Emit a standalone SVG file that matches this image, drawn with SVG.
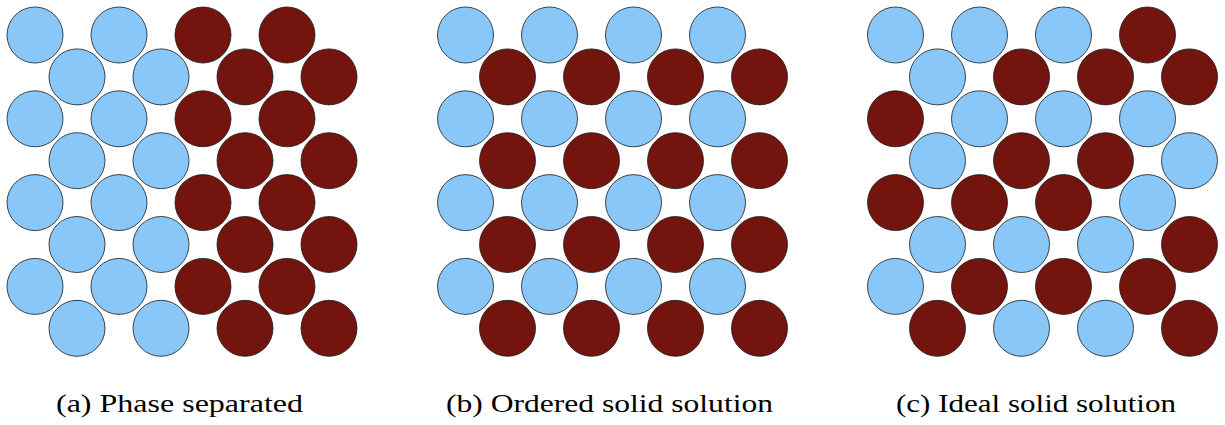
<svg xmlns="http://www.w3.org/2000/svg" width="1225" height="425" viewBox="0 0 1225 425">
<style>
.b{fill:#88c7f8;stroke:#1a1a1a;stroke-width:0.8}
.r{fill:#73140f;stroke:#1a1a1a;stroke-width:0.8}
.lbl{font-family:"Liberation Serif","Times New Roman",serif;font-size:25px;fill:#000}
</style>
<rect width="1225" height="425" fill="#fff"/>
<g id="panel-a">
<g id="a-r0"><circle class="b" cx="35" cy="35" r="28"/><circle class="b" cx="119" cy="35" r="28"/><circle class="r" cx="203" cy="35" r="28"/><circle class="r" cx="287" cy="35" r="28"/></g>
<g id="a-r1"><circle class="b" cx="77" cy="76.9" r="28"/><circle class="b" cx="161" cy="76.9" r="28"/><circle class="r" cx="245" cy="76.9" r="28"/><circle class="r" cx="329" cy="76.9" r="28"/></g>
<g id="a-r2"><circle class="b" cx="35" cy="118.8" r="28"/><circle class="b" cx="119" cy="118.8" r="28"/><circle class="r" cx="203" cy="118.8" r="28"/><circle class="r" cx="287" cy="118.8" r="28"/></g>
<g id="a-r3"><circle class="b" cx="77" cy="160.7" r="28"/><circle class="b" cx="161" cy="160.7" r="28"/><circle class="r" cx="245" cy="160.7" r="28"/><circle class="r" cx="329" cy="160.7" r="28"/></g>
<g id="a-r4"><circle class="b" cx="35" cy="202.6" r="28"/><circle class="b" cx="119" cy="202.6" r="28"/><circle class="r" cx="203" cy="202.6" r="28"/><circle class="r" cx="287" cy="202.6" r="28"/></g>
<g id="a-r5"><circle class="b" cx="77" cy="244.5" r="28"/><circle class="b" cx="161" cy="244.5" r="28"/><circle class="r" cx="245" cy="244.5" r="28"/><circle class="r" cx="329" cy="244.5" r="28"/></g>
<g id="a-r6"><circle class="b" cx="35" cy="286.4" r="28"/><circle class="b" cx="119" cy="286.4" r="28"/><circle class="r" cx="203" cy="286.4" r="28"/><circle class="r" cx="287" cy="286.4" r="28"/></g>
<g id="a-r7"><circle class="b" cx="77" cy="328.3" r="28"/><circle class="b" cx="161" cy="328.3" r="28"/><circle class="r" cx="245" cy="328.3" r="28"/><circle class="r" cx="329" cy="328.3" r="28"/></g>
<text class="lbl" x="56" y="412" textLength="247" lengthAdjust="spacingAndGlyphs">(a) Phase separated</text>
</g>
<g id="panel-b" transform="translate(430.5 0)">
<g id="b-r0"><circle class="b" cx="35" cy="35" r="28"/><circle class="b" cx="119" cy="35" r="28"/><circle class="b" cx="203" cy="35" r="28"/><circle class="b" cx="287" cy="35" r="28"/></g>
<g id="b-r1"><circle class="r" cx="77" cy="76.9" r="28"/><circle class="r" cx="161" cy="76.9" r="28"/><circle class="r" cx="245" cy="76.9" r="28"/><circle class="r" cx="329" cy="76.9" r="28"/></g>
<g id="b-r2"><circle class="b" cx="35" cy="118.8" r="28"/><circle class="b" cx="119" cy="118.8" r="28"/><circle class="b" cx="203" cy="118.8" r="28"/><circle class="b" cx="287" cy="118.8" r="28"/></g>
<g id="b-r3"><circle class="r" cx="77" cy="160.7" r="28"/><circle class="r" cx="161" cy="160.7" r="28"/><circle class="r" cx="245" cy="160.7" r="28"/><circle class="r" cx="329" cy="160.7" r="28"/></g>
<g id="b-r4"><circle class="b" cx="35" cy="202.6" r="28"/><circle class="b" cx="119" cy="202.6" r="28"/><circle class="b" cx="203" cy="202.6" r="28"/><circle class="b" cx="287" cy="202.6" r="28"/></g>
<g id="b-r5"><circle class="r" cx="77" cy="244.5" r="28"/><circle class="r" cx="161" cy="244.5" r="28"/><circle class="r" cx="245" cy="244.5" r="28"/><circle class="r" cx="329" cy="244.5" r="28"/></g>
<g id="b-r6"><circle class="b" cx="35" cy="286.4" r="28"/><circle class="b" cx="119" cy="286.4" r="28"/><circle class="b" cx="203" cy="286.4" r="28"/><circle class="b" cx="287" cy="286.4" r="28"/></g>
<g id="b-r7"><circle class="r" cx="77" cy="328.3" r="28"/><circle class="r" cx="161" cy="328.3" r="28"/><circle class="r" cx="245" cy="328.3" r="28"/><circle class="r" cx="329" cy="328.3" r="28"/></g>
<text class="lbl" x="15.5" y="412" textLength="327" lengthAdjust="spacingAndGlyphs">(b) Ordered solid solution</text>
</g>
<g id="panel-c" transform="translate(860.5 0)">
<g id="c-r0"><circle class="b" cx="35" cy="35" r="28"/><circle class="b" cx="119" cy="35" r="28"/><circle class="b" cx="203" cy="35" r="28"/><circle class="r" cx="287" cy="35" r="28"/></g>
<g id="c-r1"><circle class="b" cx="77" cy="76.9" r="28"/><circle class="r" cx="161" cy="76.9" r="28"/><circle class="r" cx="245" cy="76.9" r="28"/><circle class="r" cx="329" cy="76.9" r="28"/></g>
<g id="c-r2"><circle class="r" cx="35" cy="118.8" r="28"/><circle class="b" cx="119" cy="118.8" r="28"/><circle class="b" cx="203" cy="118.8" r="28"/><circle class="b" cx="287" cy="118.8" r="28"/></g>
<g id="c-r3"><circle class="b" cx="77" cy="160.7" r="28"/><circle class="r" cx="161" cy="160.7" r="28"/><circle class="r" cx="245" cy="160.7" r="28"/><circle class="b" cx="329" cy="160.7" r="28"/></g>
<g id="c-r4"><circle class="r" cx="35" cy="202.6" r="28"/><circle class="r" cx="119" cy="202.6" r="28"/><circle class="r" cx="203" cy="202.6" r="28"/><circle class="b" cx="287" cy="202.6" r="28"/></g>
<g id="c-r5"><circle class="b" cx="77" cy="244.5" r="28"/><circle class="b" cx="161" cy="244.5" r="28"/><circle class="b" cx="245" cy="244.5" r="28"/><circle class="r" cx="329" cy="244.5" r="28"/></g>
<g id="c-r6"><circle class="b" cx="35" cy="286.4" r="28"/><circle class="r" cx="119" cy="286.4" r="28"/><circle class="r" cx="203" cy="286.4" r="28"/><circle class="r" cx="287" cy="286.4" r="28"/></g>
<g id="c-r7"><circle class="r" cx="77" cy="328.3" r="28"/><circle class="b" cx="161" cy="328.3" r="28"/><circle class="b" cx="245" cy="328.3" r="28"/><circle class="r" cx="329" cy="328.3" r="28"/></g>
<text class="lbl" x="35.5" y="412" textLength="280" lengthAdjust="spacingAndGlyphs">(c) Ideal solid solution</text>
</g>
<g id="connectors"/>
</svg>
